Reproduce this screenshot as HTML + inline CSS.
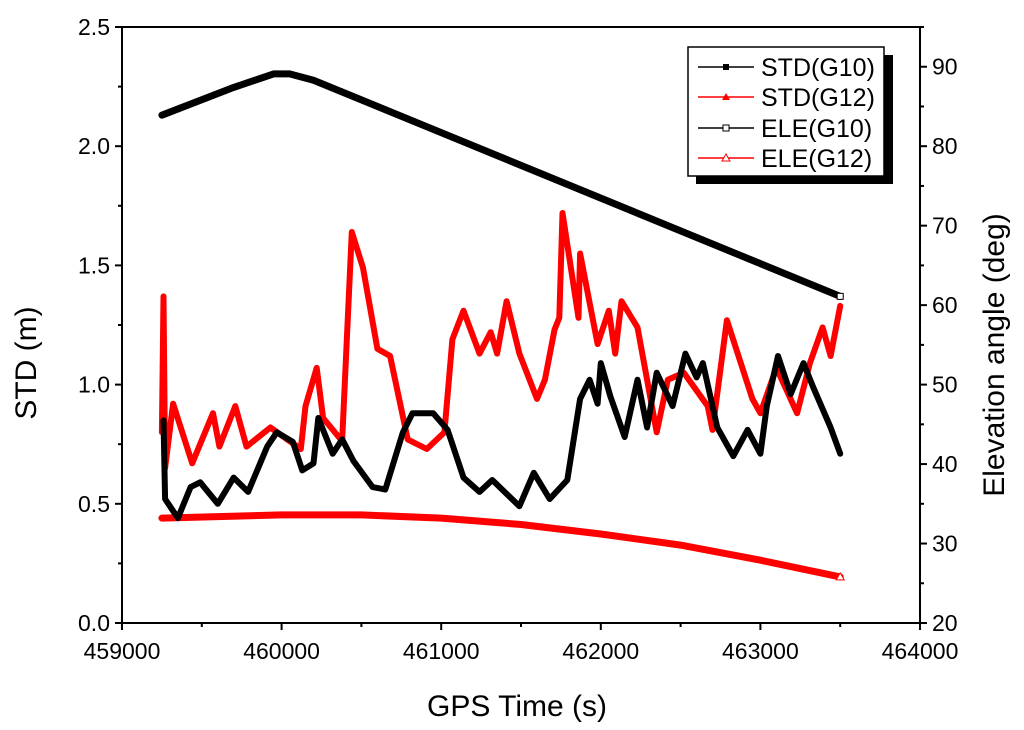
<!DOCTYPE html>
<html><head><meta charset="utf-8"><style>
html,body{margin:0;padding:0;background:#fff;}
svg{display:block;font-family:"Liberation Sans",Arial,sans-serif;}
</style></head><body>
<svg id="chart" width="1024" height="730" viewBox="0 0 1024 730" xmlns="http://www.w3.org/2000/svg">
<g id="plot"></g>
<g id="axes"></g>
<g id="legend">
  <rect x="696" y="55" width="197" height="129" fill="#000"/>
  <rect x="688" y="47" width="196" height="129" fill="#fff" stroke="#000" stroke-width="1.5"/>
  <g>
    <line x1="698" y1="67" x2="754" y2="67" stroke="#000" stroke-width="1.5"/><rect x="723" y="64" width="6" height="6" fill="#000"/>
    <text x="761" y="76" font-size="25">STD(G10)</text></g>
  <g>
    <line x1="698" y1="97" x2="754" y2="97" stroke="#f00" stroke-width="1.5"/><polygon points="726,93 730,100 722,100" fill="#f00"/>
    <text x="761" y="106" font-size="25">STD(G12)</text></g>
  <g>
    <line x1="698" y1="128" x2="754" y2="128" stroke="#000" stroke-width="1.5"/><rect x="723" y="125" width="6" height="6" fill="#fff" stroke="#000"/>
    <text x="761" y="137" font-size="25">ELE(G10)</text></g>
  <g>
    <line x1="698" y1="158" x2="754" y2="158" stroke="#f00" stroke-width="1.5"/><polygon points="726,154 730,161 722,161" fill="#fff" stroke="#f00"/>
    <text x="761" y="167" font-size="25">ELE(G12)</text></g>
</g>
</svg>
<script>
const xTicks = [459000, 460000, 461000, 462000, 463000, 464000];
const yLeftTicks = [0.0, 0.5, 1.0, 1.5, 2.0, 2.5];
const yLeftLabels = ["0.0","0.5","1.0","1.5","2.0","2.5"];
const yRightTicks = [20, 30, 40, 50, 60, 70, 80, 90];

const stdG12T = [459250,459260,459270,459320,459440,459570,459610,459710,459780,459930,460120,460150,460220,460260,460370,460380,460440,460510,460600,460680,460790,460910,461020,461070,461140,461240,461310,461350,461410,461490,461600,461650,461710,461740,461760,461860,461870,461980,462050,462090,462130,462230,462350,462420,462520,462670,462700,462790,462950,463000,463100,463230,463310,463390,463440,463500];
const stdG12V = [0.80,1.37,0.65,0.92,0.67,0.88,0.74,0.91,0.74,0.82,0.73,0.91,1.07,0.86,0.77,0.77,1.64,1.49,1.15,1.12,0.77,0.73,0.80,1.19,1.31,1.13,1.22,1.13,1.35,1.13,0.94,1.02,1.23,1.28,1.72,1.28,1.55,1.17,1.31,1.13,1.35,1.24,0.80,1.02,1.05,0.91,0.81,1.27,0.94,0.88,1.07,0.88,1.09,1.24,1.12,1.33];

const stdG10T = [459260,459270,459350,459430,459490,459600,459700,459790,459910,459970,460070,460130,460200,460230,460320,460380,460450,460570,460650,460760,460820,460950,461040,461140,461240,461320,461490,461580,461680,461790,461870,461930,461980,462000,462060,462150,462230,462290,462350,462450,462530,462600,462640,462730,462830,462920,463000,463040,463110,463190,463270,463330,463440,463500];
const stdG10V = [0.85,0.52,0.44,0.57,0.59,0.50,0.61,0.55,0.74,0.80,0.76,0.64,0.67,0.86,0.71,0.77,0.68,0.57,0.56,0.80,0.88,0.88,0.81,0.61,0.55,0.60,0.49,0.63,0.52,0.60,0.94,1.02,0.92,1.09,0.95,0.78,1.02,0.82,1.05,0.91,1.13,1.03,1.09,0.82,0.70,0.81,0.71,0.91,1.12,0.96,1.09,0.99,0.82,0.71];

const eleG10T = [459250,459700,459950,460050,460200,463500];
const eleG10V = [83.9,87.4,89.1,89.1,88.3,61.1];
const eleG12T = [459250,460000,460500,461000,461500,462000,462500,463000,463500];
const eleG12V = [33.2,33.6,33.6,33.2,32.4,31.2,29.8,27.9,25.8];

const X0=122,X1=920,Y0=623,Y1=27;
const xs = t => X0 + (t-459000)/5000*(X1-X0);
const yl = v => Y0 - v/2.5*(Y0-Y1);
const yr = d => Y0 - (d-20)/75*(Y0-Y1);
const NS="http://www.w3.org/2000/svg";
function mk(tag, parent, attrs){const e=document.createElementNS(NS,tag);for(const k in attrs)e.setAttribute(k,attrs[k]);parent.appendChild(e);return e;}
const plot=document.getElementById('plot'), axes=document.getElementById('axes');

function series(T,V,yf,color,w,name){
  const pts=T.map((t,i)=>xs(t).toFixed(1)+','+yf(V[i]).toFixed(1)).join(' ');
  const p=mk('polyline',plot,{points:pts,fill:'none',stroke:color,'stroke-width':w,'stroke-linejoin':'round','stroke-linecap':'round'});
  
  
}
series(eleG12T,eleG12V,yr,'#f00',7,'ele-g12-line');
series(eleG10T,eleG10V,yr,'#000',7,'ele-g10-line');
series(stdG12T,stdG12V,yl,'#f00',6,'std-g12-line');
series(stdG10T,stdG10V,yl,'#000',6,'std-g10-line');
const m1=mk('rect',plot,{x:xs(463500)-3,y:yr(61.1)-3,width:6,height:6,fill:'#fff',stroke:'#000'});


const m2=mk('polygon',plot,{points:`${xs(463500)},${yr(25.8)-4} ${xs(463500)+4},${yr(25.8)+3} ${xs(463500)-4},${yr(25.8)+3}`,fill:'#fff',stroke:'#f00'});



const frame=mk('rect',axes,{x:X0,y:Y1,width:X1-X0,height:Y0-Y1,fill:'none',stroke:'#000','stroke-width':2});


xTicks.forEach((t,i)=>{
  const x=xs(t);
  mk('line',axes,{x1:x,y1:Y0,x2:x,y2:Y0+7,stroke:'#000','stroke-width':2});
  if(i<xTicks.length-1) mk('line',axes,{x1:xs(t+500),y1:Y0,x2:xs(t+500),y2:Y0+4,stroke:'#000','stroke-width':2});
  const tx=mk('text',axes,{x:x,y:Y0+36,'font-size':23,'text-anchor':'middle'});tx.textContent=t;
  
  
});
yLeftTicks.forEach((v,i)=>{
  const y=yl(v);
  mk('line',axes,{x1:X0-7,y1:y,x2:X0,y2:y,stroke:'#000','stroke-width':2});
  if(i<yLeftTicks.length-1) mk('line',axes,{x1:X0-4,y1:yl(v+0.25),x2:X0,y2:yl(v+0.25),stroke:'#000','stroke-width':2});
  const tx=mk('text',axes,{x:X0-12,y:y+8,'font-size':23,'text-anchor':'end'});tx.textContent=yLeftLabels[i];
  
  
});
yRightTicks.forEach(d=>{
  const y=yr(d);
  mk('line',axes,{x1:X1,y1:y,x2:X1+7,y2:y,stroke:'#000','stroke-width':2});
  mk('line',axes,{x1:X1,y1:yr(d+5),x2:X1+4,y2:yr(d+5),stroke:'#000','stroke-width':2});
  const tx=mk('text',axes,{x:X1+12,y:y+8,'font-size':23,'text-anchor':'start'});tx.textContent=d;
  
  
});
const xt=mk('text',axes,{x:(X0+X1)/2-4,y:716,'font-size':30,'text-anchor':'middle'});xt.textContent='GPS Time (s)';


const ylt=mk('text',axes,{x:0,y:0,'font-size':30,'text-anchor':'middle',transform:`translate(36,${(Y0+Y1)/2+38}) rotate(-90)`});ylt.textContent='STD (m)';


const yrt=mk('text',axes,{x:0,y:0,'font-size':30,'text-anchor':'middle',transform:`translate(1004,${(Y0+Y1)/2+30}) rotate(-90)`});yrt.textContent='Elevation angle (deg)';


</script>
</body></html>
